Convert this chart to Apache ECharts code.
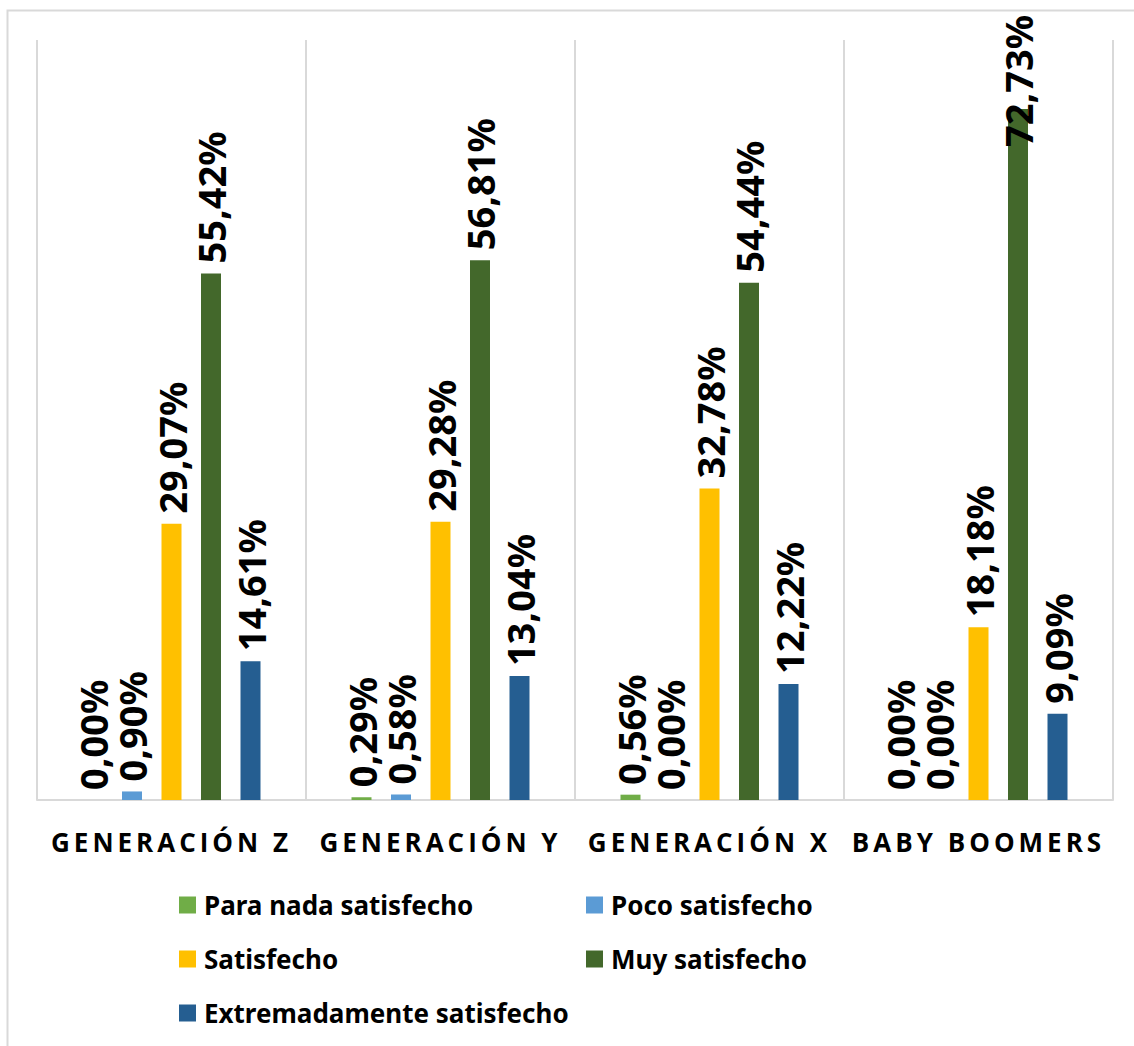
<!DOCTYPE html>
<html>
<head>
<meta charset="utf-8">
<script src="https://cdn.jsdelivr.net/npm/echarts@6/dist/echarts.min.js"></script>
<style>
  html, body { margin: 0; padding: 0; background: #fff; }
  #chart { width: 1134px; height: 1046px; }
  /* espaciado de letras en las categorias */
  #chart svg text[style*="Open Sans"], #chart svg text[font-family*="Open Sans"] { letter-spacing: 4px; }
</style>
</head>
<body>
<div id="chart"></div>
<script>
  var categories = ['GENERACIÓN Z', 'GENERACIÓN Y', 'GENERACIÓN X', 'BABY BOOMERS'];
  var seriesNames = ['Para nada satisfecho', 'Poco satisfecho', 'Satisfecho', 'Muy satisfecho', 'Extremadamente satisfecho'];
  var paraNada = [0, 0.29, 0.56, 0];
  var poco = [0.90, 0.58, 0, 0];
  var satisfecho = [29.07, 29.28, 32.78, 18.18];
  var muy = [55.42, 56.81, 54.44, 72.73];
  var extremadamente = [14.61, 13.04, 12.22, 9.09];
  var colores = ['#70ad47', '#5b9bd5', '#ffc000', '#43682b', '#255e91'];

  var chart = echarts.init(document.getElementById('chart'), null, {renderer: 'svg'});

  function pct(p) {
    return p.value.toFixed(2).replace('.', ',') + '%';
  }

  function serie(idx, data) {
    return {
      name: seriesNames[idx],
      type: 'bar',
      barWidth: 20,
      barGap: '97.5%',
      itemStyle: {color: colores[idx]},
      data: data.map(function (v) {
        // la etiqueta de 72,73% queda dentro del area, como en el original
        if (v > 70) return {value: v, label: {distance: -38}};
        return v;
      }),
      label: {
        show: true,
        position: 'top',
        rotate: 90,
        align: 'left',
        verticalAlign: 'middle',
        distance: 10,
        formatter: pct,
        color: '#000',
        fontFamily: 'Noto Sans',
        fontWeight: 'bold',
        fontSize: 38
      }
    };
  }

  var legendText = {fontFamily: 'Noto Sans', fontWeight: 'bold', fontSize: 26, lineHeight: 26, color: '#000', padding: [0, 0, 0, 3]};

  var option = {
    animation: false,
    backgroundColor: '#fff',
    graphic: [{
      type: 'rect',
      shape: {x: 7.5, y: 10.5, width: 1140, height: 1100},
      style: {fill: 'none', stroke: '#d9d9d9', lineWidth: 2},
      silent: true
    }],
    grid: {left: 37, right: 21, top: 40, bottom: 246, containLabel: false, outerBoundsMode: 'none'},
    legend: [{
      data: [seriesNames[0], seriesNames[2], seriesNames[4]],
      orient: 'vertical',
      left: 174,
      top: 887,
      itemWidth: 17,
      itemHeight: 17,
      itemGap: 28,
      icon: 'rect',
      textStyle: legendText
    }, {
      data: [seriesNames[1], seriesNames[3]],
      orient: 'vertical',
      left: 581,
      top: 887,
      itemWidth: 17,
      itemHeight: 17,
      itemGap: 28,
      icon: 'rect',
      textStyle: legendText
    }],
    xAxis: {
      type: 'category',
      data: categories,
      axisTick: {show: false},
      axisLine: {lineStyle: {color: '#d9d9d9', width: 2}},
      splitLine: {show: true, lineStyle: {color: '#d9d9d9', width: 2}},
      axisLabel: {
        margin: 27,
        fontFamily: 'Open Sans',
        fontWeight: 'bold',
        fontSize: 26,
        lineHeight: 30,
        color: '#000'
      }
    },
    yAxis: {
      type: 'value',
      min: 0,
      max: 80,
      show: false,
      splitLine: {show: false}
    },
    series: [
      serie(0, paraNada),
      serie(1, poco),
      serie(2, satisfecho),
      serie(3, muy),
      serie(4, extremadamente)
    ]
  };

  chart.setOption(option);
</script>
</body>
</html>
